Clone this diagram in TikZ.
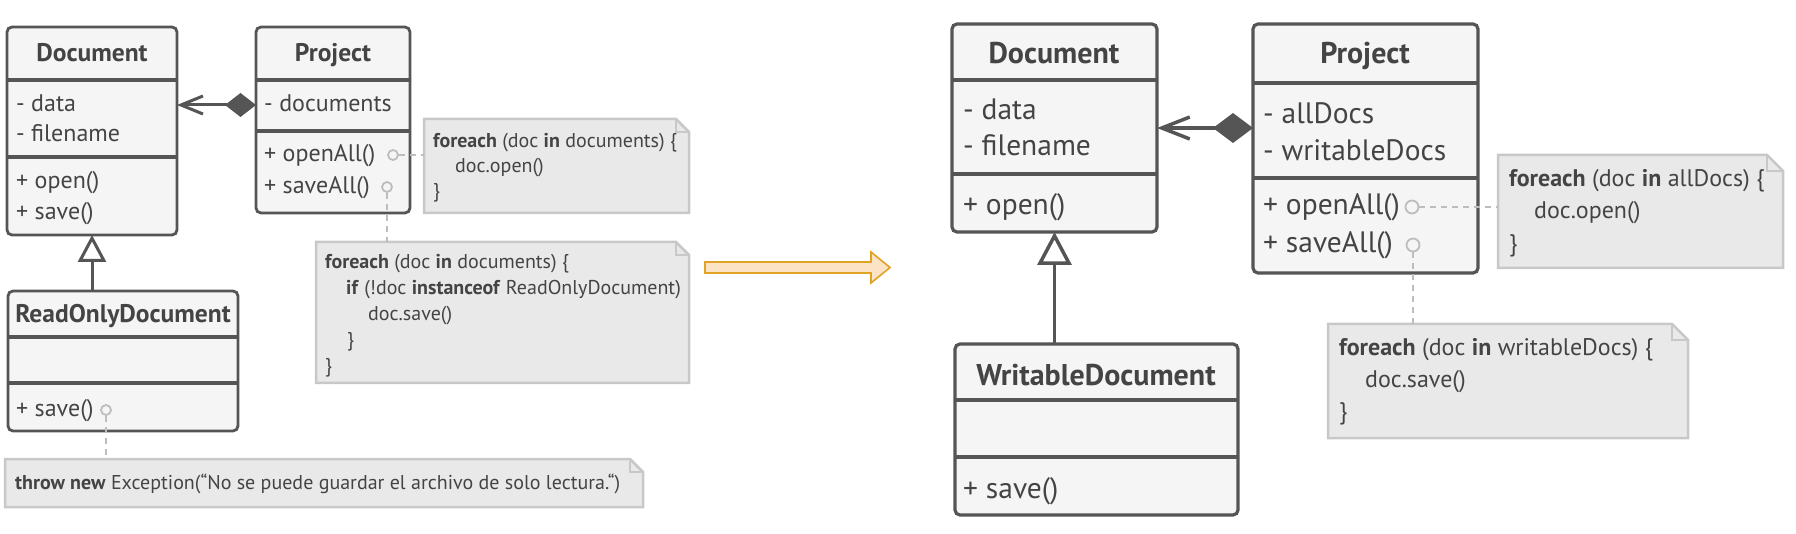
\documentclass[tikz,border=0pt]{standalone}
\usepackage{fontspec}
\setmainfont{PT Sans}
\usetikzlibrary{arrows.meta}
\definecolor{boxfill}{HTML}{F5F5F5}
\definecolor{boxline}{HTML}{555555}
\definecolor{txt}{HTML}{444444}
\definecolor{notefill}{HTML}{E9E9E9}
\definecolor{noteline}{HTML}{C8C8C8}
\definecolor{dashc}{HTML}{BDBDBD}
\definecolor{arrfill}{HTML}{FDE3C6}
\definecolor{arrline}{HTML}{E0A325}
\tikzset{
  cls/.style={draw=boxline, fill=boxfill, line width=2.8pt, rounded corners=5pt, inner sep=0pt, outer sep=0pt, anchor=north west},
  sepline/.style={draw=boxline, line width=3.5pt},
  notebox/.style={inner sep=0pt, outer sep=0pt, anchor=north west},
  noteshape/.style={draw=noteline, fill=notefill, line width=2.5pt, line join=miter},
  tl/.style={anchor=base west, inner sep=0pt, text=txt},
  th/.style={anchor=base, inner sep=0pt, text=txt},
  fsmall/.style={font=\fontsize{24}{28}\selectfont},
  fbig/.style={font=\fontsize{29.5}{34}\selectfont},
  hsmall/.style={font=\fontsize{25.5}{30}\selectfont\bfseries},
  hbig/.style={font=\fontsize{30}{34}\selectfont\bfseries},
  nsmall/.style={font=\fontsize{20}{24}\selectfont},
  nbig/.style={font=\fontsize{24}{28}\selectfont},
  dotc/.style={circle, draw=dashc, line width=1.8pt, inner sep=0pt, minimum size=#1},
  dashline/.style={draw=dashc, line width=2.5pt, dash pattern=on 6pt off 5pt},
  conn/.style={draw=boxline, line width=3pt},
  bigarrow/.style={draw=arrline, fill=arrfill, line width=1.6pt, line join=miter}
}
\newcommand{\notedraw}[2]{%
  \path[noteshape] (#1.north west) -- ([xshift=-#2]#1.north east) -- ([yshift=-#2]#1.north east) -- (#1.south east) -- (#1.south west) -- cycle;
  \draw[noteshape, fill=none] ([xshift=-#2]#1.north east) -- ([xshift=-#2,yshift=-#2]#1.north east) -- ([yshift=-#2]#1.north east);
}
\begin{document}
\begin{tikzpicture}[x=1pt, y=-1pt]
\useasboundingbox (0,0) rectangle (1796,534);

% ---------------- LEFT SIDE ----------------
% Document
\node[cls, minimum width=170pt, minimum height=208pt] (doc1) at (7,27) {};
\draw[sepline] ([yshift=-53pt]doc1.north west) -- ([yshift=-53pt]doc1.north east);
\draw[sepline] ([yshift=-130pt]doc1.north west) -- ([yshift=-130pt]doc1.north east);
\node[th, hsmall] (doc1t) at (92,62) {Document};
\node[tl, fsmall] (doc1a) at (16,111.5) {- data};
\node[tl, fsmall] (doc1b) at (16,141.5) {- filename};
\node[tl, fsmall] (doc1c) at (16,188.5) {+ open()};
\node[tl, fsmall] (doc1d) at (16,219.5) {+ save()};

% Project
\node[cls, minimum width=154pt, minimum height=186pt] (proj1) at (256,27) {};
\draw[sepline] ([yshift=-53pt]proj1.north west) -- ([yshift=-53pt]proj1.north east);
\draw[sepline] ([yshift=-104pt]proj1.north west) -- ([yshift=-104pt]proj1.north east);
\node[th, hsmall] (proj1t) at (333,62) {Project};
\node[tl, fsmall] (proj1a) at (264,111.5) {- documents};
\node[tl, fsmall] (proj1b) at (264,161.5) {+ openAll()};
\node[tl, fsmall] (proj1c) at (264,193.5) {+ saveAll()};
\node[dotc=10pt] (p1o) at (393,155) {};
\node[dotc=10pt] (p1s) at (387,187) {};

% ReadOnlyDocument
\node[cls, minimum width=230pt, minimum height=140pt] (rod) at (8,291) {};
\draw[sepline] ([yshift=-46pt]rod.north west) -- ([yshift=-46pt]rod.north east);
\draw[sepline] ([yshift=-92pt]rod.north west) -- ([yshift=-92pt]rod.north east);
\node[th, hsmall] (rodt) at (123,323) {ReadOnlyDocument};
\node[tl, fsmall] (roda) at (16,416.5) {+ save()};
\node[dotc=10pt] (rs) at (106,410) {};

% relations left
\draw[conn, {Diamond[length=31pt,width=24pt]}-{Straight Barb[length=22pt,width=18pt]}]
  ([yshift=-78pt]proj1.north west) -- ([yshift=-78pt]doc1.north east);
\draw[conn, -{Triangle[length=27pt,width=28pt,fill=white]}] (doc1.south |- rod.north) -- (doc1.south);

% notes left
\node[notebox, minimum width=265pt, minimum height=94pt] (n1) at (424,119) {};
\notedraw{n1}{13pt}
\node[tl, nsmall] (n1a) at (433,147.5) {\textbf{foreach} (doc \textbf{in} documents) \{};
\node[tl, nsmall] (n1b) at (455,172.5) {doc.open()};
\node[tl, nsmall] (n1c) at (433,197.5) {\}};

\node[notebox, minimum width=373pt, minimum height=141pt] (n2) at (316,242) {};
\notedraw{n2}{13pt}
\node[tl, nsmall] (n2a) at (325,268.5) {\textbf{foreach} (doc \textbf{in} documents) \{};
\node[tl, nsmall] (n2b) at (346,294.5) {\textbf{if} (!doc \textbf{instanceof} ReadOnlyDocument)};
\node[tl, nsmall] (n2c) at (368,320.5) {doc.save()};
\node[tl, nsmall] (n2d) at (347,346.5) {\}};
\node[tl, nsmall] (n2e) at (325,372.5) {\}};

\node[notebox, minimum width=638pt, minimum height=48pt] (n3) at (5,459) {};
\notedraw{n3}{13pt}
\node[tl, nsmall] (n3a) at (15,489) {\textbf{throw new} Exception(“No se puede guardar el archivo de solo lectura.“)};

\draw[dashline] (p1o) -- (p1o -| n1.west);
\draw[dashline] (p1s) -- (p1s |- n2.north);
\draw[dashline] (rs) -- (rs |- n3.north);

% ---------------- BIG ARROW ----------------
\path[bigarrow] (705,262) -- (871,262) -- (871,252) -- (890,267.5) -- (871,283) -- (871,273) -- (705,273) -- cycle;

% ---------------- RIGHT SIDE ----------------
\node[cls, minimum width=205pt, minimum height=208pt, line width=3.2pt] (doc2) at (952,24) {};
\draw[sepline, line width=4pt] ([yshift=-56pt]doc2.north west) -- ([yshift=-56pt]doc2.north east);
\draw[sepline, line width=4pt] ([yshift=-150pt]doc2.north west) -- ([yshift=-150pt]doc2.north east);
\node[th, hbig] (doc2t) at (1054,63.5) {Document};
\node[tl, fbig] (doc2a) at (963,120) {- data};
\node[tl, fbig] (doc2b) at (963,156) {- filename};
\node[tl, fbig] (doc2c) at (963,215) {+ open()};

\node[cls, minimum width=225pt, minimum height=249pt, line width=3.2pt] (proj2) at (1253,24) {};
\draw[sepline, line width=4pt] ([yshift=-59pt]proj2.north west) -- ([yshift=-59pt]proj2.north east);
\draw[sepline, line width=4pt] ([yshift=-154pt]proj2.north west) -- ([yshift=-154pt]proj2.north east);
\node[th, hbig] (proj2t) at (1365,63.5) {Project};
\node[tl, fbig] (proj2a) at (1263,124) {- allDocs};
\node[tl, fbig] (proj2b) at (1263,161) {- writableDocs};
\node[tl, fbig] (proj2c) at (1263,215) {+ openAll()};
\node[tl, fbig] (proj2d) at (1263,253) {+ saveAll()};
\node[dotc=13pt] (p2o) at (1412,207) {};
\node[dotc=13pt] (p2s) at (1413,245) {};

\node[cls, minimum width=283pt, minimum height=171pt, line width=3.2pt] (wd) at (955,344) {};
\draw[sepline, line width=4pt] ([yshift=-56pt]wd.north west) -- ([yshift=-56pt]wd.north east);
\draw[sepline, line width=4pt] ([yshift=-113pt]wd.north west) -- ([yshift=-113pt]wd.north east);
\node[th, hbig] (wdt) at (1096,385.5) {WritableDocument};
\node[tl, fbig] (wda) at (963,498) {+ save()};

\draw[conn, line width=3.5pt, {Diamond[length=40pt,width=30pt]}-{Straight Barb[length=28pt,width=22pt]}]
  ([yshift=-104pt]proj2.north west) -- ([yshift=-104pt]doc2.north east);
\draw[conn, line width=3.5pt, -{Triangle[length=33pt,width=34pt,fill=white]}] (doc2.south |- wd.north) -- (doc2.south);

\node[notebox, minimum width=285pt, minimum height=113pt] (n4) at (1498,155) {};
\notedraw{n4}{16pt}
\node[tl, nbig] (n4a) at (1509,186.5) {\textbf{foreach} (doc \textbf{in} allDocs) \{};
\node[tl, nbig] (n4b) at (1534,218.5) {doc.open()};
\node[tl, nbig] (n4c) at (1509,251.5) {\}};

\node[notebox, minimum width=360pt, minimum height=114pt] (n5) at (1328,324) {};
\notedraw{n5}{16pt}
\node[tl, nbig] (n5a) at (1339,355.5) {\textbf{foreach} (doc \textbf{in} writableDocs) \{};
\node[tl, nbig] (n5b) at (1365,387.5) {doc.save()};
\node[tl, nbig] (n5c) at (1339,419.5) {\}};

\draw[dashline] (p2o) -- (p2o -| n4.west);
\draw[dashline] (p2s) -- (p2s |- n5.north);
\end{tikzpicture}
\end{document}
